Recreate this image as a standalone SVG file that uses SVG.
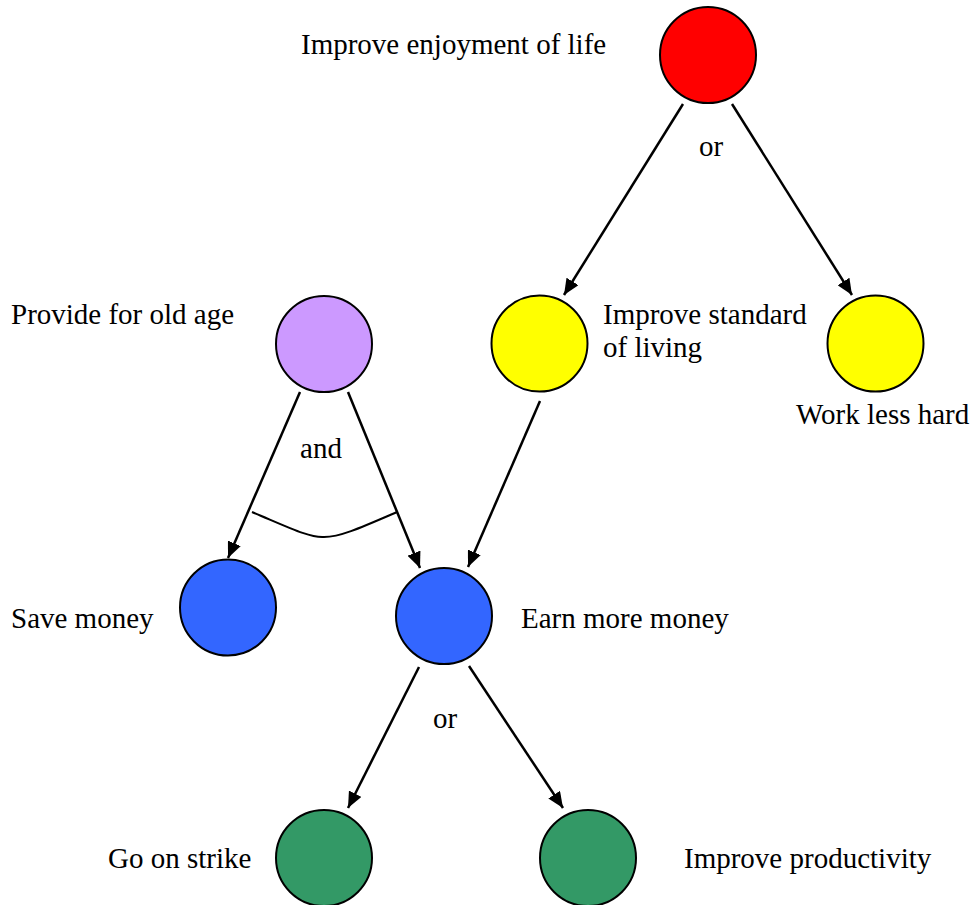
<svg xmlns="http://www.w3.org/2000/svg" width="978" height="905" viewBox="0 0 978 905">
<style>
.node circle{stroke:#000;stroke-width:2}
text{font-family:"Liberation Serif","Times New Roman",serif;font-size:29px;fill:#000}
.conn line{stroke:#000;stroke-width:2.5;marker-end:url(#ah)}
.mid{text-anchor:middle}
</style>
<defs>
<marker id="ah" viewBox="0 0 16 14" refX="16" refY="7" markerWidth="16" markerHeight="14" markerUnits="userSpaceOnUse" orient="auto">
<path d="M0,0 L16,7 L0,14 z" fill="#000"/>
</marker>
</defs>
<rect width="978" height="905" fill="#fff"/>
<g id="connectors" class="conn">
<line x1="683" y1="104" x2="564" y2="295"/>
<line x1="732" y1="104" x2="852" y2="295"/>
<line x1="540" y1="401" x2="468" y2="567"/>
<line x1="300" y1="392" x2="228" y2="558"/>
<line x1="348" y1="392" x2="420" y2="568"/>
<line x1="419" y1="667" x2="348" y2="808"/>
<line x1="469" y1="666" x2="563" y2="808"/>
<path d="M252,512 C290,528 310,538 324,537 C340,537 360,528 397,512" fill="none" stroke="#000" stroke-width="2"/>
<text class="mid" x="711" y="156">or</text>
<text class="mid" x="321" y="458">and</text>
<text class="mid" x="445" y="728">or</text>
</g>
<g id="n-enjoy" class="node"><circle cx="708" cy="55" r="48" fill="#ff0000"/><text x="301" y="54">Improve enjoyment of life</text></g>
<g id="n-oldage" class="node"><circle cx="324" cy="344" r="48" fill="#cc99ff"/><text x="11" y="324">Provide for old age</text></g>
<g id="n-standard" class="node"><circle cx="539.5" cy="343.5" r="48" fill="#ffff00"/><text x="603" y="324">Improve standard</text><text x="603" y="357">of living</text></g>
<g id="n-workless" class="node"><circle cx="875.5" cy="343.5" r="48" fill="#ffff00"/><text x="796" y="424">Work less hard</text></g>
<g id="n-save" class="node"><circle cx="228" cy="607.5" r="48" fill="#3366ff"/><text x="11" y="628">Save money</text></g>
<g id="n-earn" class="node"><circle cx="444" cy="616" r="48" fill="#3366ff"/><text x="521" y="628">Earn more money</text></g>
<g id="n-strike" class="node"><circle cx="324" cy="858" r="48" fill="#339966"/><text x="108" y="868">Go on strike</text></g>
<g id="n-productivity" class="node"><circle cx="588" cy="858" r="48" fill="#339966"/><text x="684" y="868">Improve productivity</text></g>
</svg>
